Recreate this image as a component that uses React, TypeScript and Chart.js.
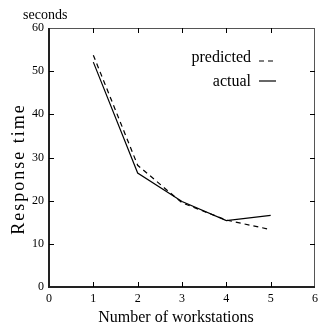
import React, { useEffect, useRef } from "react";
import { Chart, registerables } from "chart.js";

Chart.register(...registerables);

const workstations = [1, 2, 3, 4, 5];
const predicted = [53.7, 28.2, 19.5, 15.5, 13.3];
const actual = [52.1, 26.4, 19.8, 15.4, 16.6];
const seriesNames = ["predicted", "actual"];
const xTitle = "Number of workstations";
const yTitle = "Response time";
const yUnit = "seconds";

const FONT = "'Liberation Serif', 'DejaVu Serif', serif";

const framePlugin = {
  id: "frame",
  afterDraw(chart: any) {
    const { ctx, chartArea: a, scales } = chart;
    const xs = scales.x;
    const ys = scales.y;
    ctx.save();
    // top & right thin borders
    ctx.strokeStyle = "#555";
    ctx.lineWidth = 1;
    ctx.beginPath();
    ctx.moveTo(a.left, a.top + 0.5);
    ctx.lineTo(a.right, a.top + 0.5);
    ctx.moveTo(a.right - 0.5, a.top);
    ctx.lineTo(a.right - 0.5, a.bottom);
    ctx.stroke();
    // left & bottom thicker axes
    ctx.strokeStyle = "#222";
    ctx.lineWidth = 2;
    ctx.beginPath();
    ctx.moveTo(a.left, a.top);
    ctx.lineTo(a.left, a.bottom);
    ctx.lineTo(a.right, a.bottom);
    ctx.stroke();
    // inward ticks
    ctx.strokeStyle = "#000";
    ctx.lineWidth = 1;
    ctx.beginPath();
    for (let v = 1; v <= 5; v++) {
      const px = Math.round(xs.getPixelForValue(v)) + 0.5;
      ctx.moveTo(px, a.bottom);
      ctx.lineTo(px, a.bottom - 5);
      ctx.moveTo(px, a.top);
      ctx.lineTo(px, a.top + 5);
    }
    for (let v = 10; v <= 50; v += 10) {
      const py = Math.round(ys.getPixelForValue(v)) + 0.5;
      ctx.moveTo(a.left, py);
      ctx.lineTo(a.left + 5, py);
      ctx.moveTo(a.right, py);
      ctx.lineTo(a.right - 5, py);
    }
    ctx.stroke();
    ctx.fillStyle = "#000";
    // unit label
    ctx.font = `14px ${FONT}`;
    ctx.textAlign = "left";
    ctx.textBaseline = "alphabetic";
    ctx.fillText(yUnit, 23, 19);
    // x title
    ctx.font = `16px ${FONT}`;
    ctx.textAlign = "center";
    ctx.fillText(xTitle, 176, 322);
    // y title
    ctx.save();
    ctx.translate(24, 169);
    ctx.rotate(-Math.PI / 2);
    ctx.font = `18px ${FONT}`;
    (ctx as any).letterSpacing = "2px";
    ctx.textAlign = "center";
    ctx.fillText(yTitle, 0, 0);
    ctx.restore();
    // legend
    ctx.font = `16px ${FONT}`;
    ctx.textAlign = "right";
    ctx.textBaseline = "alphabetic";
    const lx = 251;
    const rows = [62, 86];
    ctx.fillText(seriesNames[0], lx, rows[0]);
    ctx.fillText(seriesNames[1], lx, rows[1]);
    ctx.lineWidth = 1.2;
    ctx.setLineDash([5, 4]);
    ctx.beginPath();
    ctx.moveTo(259, 61);
    ctx.lineTo(275, 61);
    ctx.stroke();
    ctx.setLineDash([]);
    ctx.beginPath();
    ctx.moveTo(259, 81);
    ctx.lineTo(276, 81);
    ctx.stroke();
    ctx.restore();
  },
};

export default function App() {
  const ref = useRef<HTMLCanvasElement>(null);
  useEffect(() => {
    document.body.style.margin = "0";
    const chart = new Chart(ref.current!, {
      type: "line",
      data: {
        datasets: [
          {
            label: seriesNames[0],
            data: workstations.map((x, i) => ({ x, y: predicted[i] })),
            borderColor: "#000",
            borderWidth: 1.2,
            borderDash: [5, 4],
            pointRadius: 0,
            tension: 0,
          },
          {
            label: seriesNames[1],
            data: workstations.map((x, i) => ({ x, y: actual[i] })),
            borderColor: "#000",
            borderWidth: 1.2,
            pointRadius: 0,
            tension: 0,
          },
        ],
      },
      options: {
        animation: false,
        responsive: false,
        layout: { padding: { top: 28, right: 2, left: 0, bottom: 0 } },
        plugins: { legend: { display: false }, tooltip: { enabled: false } },
        scales: {
          x: {
            type: "linear",
            min: 0,
            max: 6,
            border: { display: false },
            grid: { display: false, drawTicks: false },
            ticks: {
              stepSize: 1,
              color: "#000",
              padding: 5,
              font: { family: FONT, size: 12 },
            },
            afterFit(scale: any) {
              scale.height = 39;
            },
          },
          y: {
            min: 0,
            max: 60,
            border: { display: false },
            grid: { display: false, drawTicks: false },
            ticks: {
              stepSize: 10,
              color: "#000",
              padding: 5,
              font: { family: FONT, size: 12 },
            },
            afterFit(scale: any) {
              scale.width = 49;
            },
          },
        },
      },
      plugins: [framePlugin],
    } as any);
    return () => chart.destroy();
  }, []);
  return <canvas ref={ref} width={323} height={326} style={{ display: "block" }} />;
}
